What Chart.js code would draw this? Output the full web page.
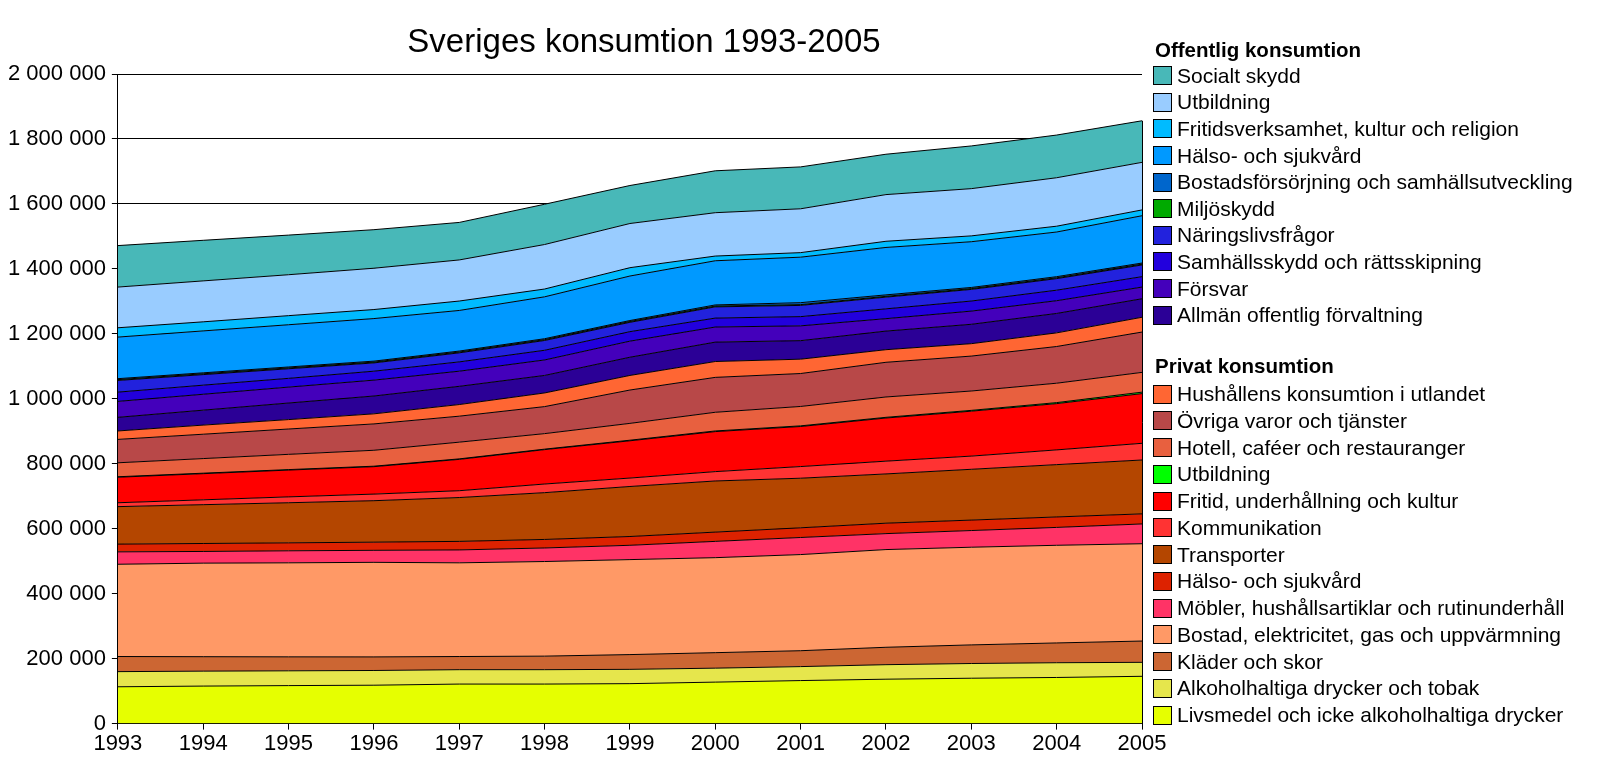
<!DOCTYPE html>
<html>
<head>
<meta charset="utf-8">
<script src="https://cdn.jsdelivr.net/npm/chart.js@4"></script>
<style>
  html, body { margin:0; padding:0; background:#fff; }
  body { width:1600px; height:760px; position:relative; overflow:hidden; font-family:"Liberation Sans", Arial, sans-serif; }
  #wrap { position:absolute; left:0; top:0; width:1286px; height:760px; }
  #title { position:absolute; left:344px; width:600px; top:21px; text-align:center; font-size:33px; line-height:40px; color:#000; white-space:nowrap; }
  #legend { position:absolute; left:1153px; top:0; width:447px; height:760px; color:#000; }
  .hdr { position:absolute; left:2px; font-weight:bold; font-size:20.5px; line-height:24px; white-space:nowrap; }
  .row { position:absolute; left:0; height:26px; display:flex; align-items:center; white-space:nowrap; font-size:21px; }
  .box { width:17px; height:17px; border:1px solid #000; margin-right:5px; flex:none; }
</style>
</head>
<body>
<div id="wrap"><canvas id="c"></canvas></div>
<div id="title"></div>
<div id="legend"></div>
<script>
// ---- data (million SEK) ----
const years = ['1993','1994','1995','1996','1997','1998','1999','2000','2001','2002','2003','2004','2005'];

// Privat konsumtion (stack order bottom -> top)
const livsmedel      = [113400,115500,117000,118200,121700,121700,123000,127700,132500,136700,139700,142000,145600];
const alkohol        = [46600,46000,45500,45300,44300,44300,44000,43000,43000,44700,45300,45400,43000];
const kladerSkor     = [46500,44500,43000,41800,40500,41700,45500,47700,48900,53600,57300,60900,65600];
const bostadEl       = [284100,288000,289500,291200,288500,291300,292400,292500,296000,300800,300700,300700,299600];
const mobler         = [38200,36000,37000,37000,39700,41700,44100,50100,52600,49100,51400,55000,60900];
const halsoPriv      = [23800,24500,24500,25100,26300,26300,27000,28600,29800,32100,32200,32200,31000];
const transporter    = [115400,119500,123500,127700,135000,144000,154000,157400,152700,151700,156400,161100,165900];
const kommunikation  = [12000,15000,18000,20300,21000,26600,26000,28800,35900,39300,40600,45400,51400];
const fritidPriv     = [78500,80500,82500,84400,96500,105900,114700,123200,123300,132800,138300,142400,153000];
const utbPriv        = [1500,1500,1500,1500,1500,1500,1800,2000,2000,2200,2500,3200,4500];
const hotell         = [43000,45000,47000,49000,51500,47800,51800,57500,59700,62600,59600,59700,60900];
const ovriga         = [72000,75000,78000,81200,80000,83200,102700,107500,101400,106800,107500,113000,124100];
const utlandet       = [26000,28000,29000,31000,35800,42000,44900,48800,44200,38800,38200,42000,45500];
// Offentlig konsumtion (stack order bottom -> top)
const allman         = [42000,46000,51000,54900,56100,53900,56100,59700,57000,57300,59700,59800,57000];
const forsvar        = [49000,49000,49000,48900,46600,47700,49500,46500,45600,38200,40600,39200,36000];
const samhallsskydd  = [28500,28000,27000,27500,28600,29800,29200,27500,28400,30300,31000,32400,32000];
const naringsliv     = [36000,32500,29500,25500,27900,30100,28800,34500,34500,36000,35800,35600,36000];
const miljoskydd     = [2500,2500,2500,2500,2500,2500,2500,2500,2500,2500,2500,2500,2500];
const bostadsforsorj = [3000,3000,3000,3000,3000,3000,3000,3500,6000,4500,3500,3500,3500];
const halsoOff       = [128000,129000,130000,131000,125000,129000,137000,136000,140000,146000,140800,137500,145600];
const fritidsOff     = [28700,28000,28000,27800,29000,24000,25700,14500,14000,19000,18000,17900,17900];
const utbOff         = [125300,126000,126000,127200,126500,137000,136000,133500,135000,143700,145400,149200,146500];
const socialtSkydd   = [127700,125000,122000,118700,115500,124000,117000,129000,129000,124300,131500,131400,128000];

const privNames = ['Livsmedel och icke alkoholhaltiga drycker','Alkoholhaltiga drycker och tobak','Kläder och skor',
  'Bostad, elektricitet, gas och uppvärmning','Möbler, hushållsartiklar och rutinunderhåll','Hälso- och sjukvård',
  'Transporter','Kommunikation','Fritid, underhållning och kultur','Utbildning','Hotell, caféer och restauranger',
  'Övriga varor och tjänster','Hushållens konsumtion i utlandet'];
const privData = [livsmedel,alkohol,kladerSkor,bostadEl,mobler,halsoPriv,transporter,kommunikation,fritidPriv,utbPriv,hotell,ovriga,utlandet];
const privColors = ['#E6FF00','#E6E64C','#CC6633','#FF9966','#FF3366','#DD2200','#B44600','#FF3333','#FF0000','#00FF00','#E8603F','#B84848','#FF6633'];

const offNames = ['Allmän offentlig förvaltning','Försvar','Samhällsskydd och rättsskipning','Näringslivsfrågor','Miljöskydd',
  'Bostadsförsörjning och samhällsutveckling','Hälso- och sjukvård','Fritidsverksamhet, kultur och religion','Utbildning','Socialt skydd'];
const offData = [allman,forsvar,samhallsskydd,naringsliv,miljoskydd,bostadsforsorj,halsoOff,fritidsOff,utbOff,socialtSkydd];
const offColors = ['#2B0096','#4400BB','#2200DD','#2222DD','#00AA00','#0066CC','#0099FF','#00BBFF','#99CCFF','#48B8B8'];

const yMax = 2000000, yStep = 200000;
const titleText = 'Sveriges konsumtion 1993-2005';
const privHeader = 'Privat konsumtion', offHeader = 'Offentlig konsumtion';

// ---- build chart ----
const FONT = '"Liberation Sans", Arial, sans-serif';
const datasets = [];
function addSeries(names, data, colors){
  names.forEach((n,i)=>{
    datasets.push({
      label:n, data:data[i], backgroundColor:colors[i], borderColor:'#000', borderWidth:1,
      pointRadius:0, tension:0, fill: datasets.length===0 ? 'origin' : '-1'
    });
  });
}
addSeries(privNames, privData, privColors);
addSeries(offNames, offData, offColors);

const edgeLine = {
  id:'edgeLine',
  afterDatasetsDraw(chart){
    const top = chart.getDatasetMeta(datasets.length-1).data;
    const p = top[top.length-1];
    const ctx = chart.ctx;
    ctx.save(); ctx.strokeStyle='#000'; ctx.lineWidth=1;
    ctx.beginPath(); ctx.moveTo(Math.round(p.x)+0.5, p.y); ctx.lineTo(Math.round(p.x)+0.5, chart.chartArea.bottom); ctx.stroke();
    ctx.restore();
  }
};

new Chart(document.getElementById('c'), {
  type:'line',
  data:{ labels:years, datasets },
  plugins:[edgeLine],
  options:{
    responsive:true, maintainAspectRatio:false, animation:false,
    layout:{ padding:{ left:2, right:144, top:74, bottom:2 } },
    plugins:{
      legend:{ display:false }, tooltip:{ enabled:false }, title:{ display:false },
      filler:{ propagate:false }
    },
    scales:{
      x:{ offset:false, grid:{ display:true, drawOnChartArea:false, drawTicks:true, tickLength:6, color:'#000' },
          border:{ color:'#000', width:1 },
          ticks:{ color:'#000', font:{ family:FONT, size:22 }, padding:1, maxRotation:0, autoSkip:false } },
      y:{ stacked:true, min:0, max:yMax,
          grid:{ color:'#000', lineWidth:1, tickLength:6 },
          border:{ color:'#000', width:1 },
          ticks:{ stepSize:yStep, color:'#000', font:{ family:FONT, size:22 }, padding:6,
                  callback:v=>String(v).replace(/\B(?=(\d{3})+(?!\d))/g,' ') } }
    }
  }
});

document.getElementById('title').textContent = titleText;

// ---- HTML legend ----
const lg = document.getElementById('legend');
function hdr(text, top){ const d=document.createElement('div'); d.className='hdr'; d.style.top=top+'px'; d.textContent=text; lg.appendChild(d); }
function row(name,color,center){ const d=document.createElement('div'); d.className='row'; d.style.top=(center-13)+'px';
  const b=document.createElement('span'); b.className='box'; b.style.background=color; d.appendChild(b);
  const t=document.createElement('span'); t.textContent=name; d.appendChild(t); lg.appendChild(d); }
hdr(offHeader, 38);
offNames.slice().reverse().forEach((n,i)=>row(n, offColors[offColors.length-1-i], 75.7+i*26.6));
hdr(privHeader, 354);
privNames.slice().reverse().forEach((n,i)=>row(n, privColors[privColors.length-1-i], 394+i*26.75));
</script>
</body>
</html>
